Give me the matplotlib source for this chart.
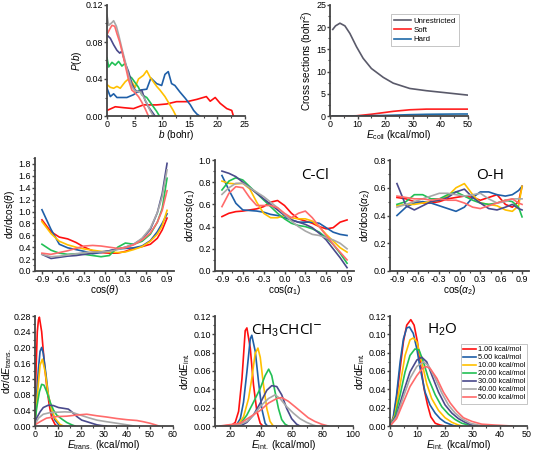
import matplotlib
matplotlib.use("Agg")
import matplotlib.pyplot as plt
from matplotlib.ticker import AutoMinorLocator, FormatStrFormatter

plt.rcParams['font.family'] = ['Liberation Sans', 'DejaVu Sans']
plt.rcParams['mathtext.fontset'] = 'custom'
plt.rcParams['mathtext.rm'] = 'Liberation Sans'
plt.rcParams['mathtext.it'] = 'Liberation Sans:italic'

energies = ["1.00 kcal/mol", "5.00 kcal/mol", "10.00 kcal/mol", "20.00 kcal/mol",
            "30.00 kcal/mol", "40.00 kcal/mol", "50.00 kcal/mol"]
colors = ["#ff1010", "#1f5fa8", "#ffc000", "#22c055", "#4a4a8c", "#a8a8a8", "#ff6b6b"]

# ---------------- Panel a: P(b) ----------------
pb_x = [
    [0, 1.5, 3, 4.8, 6.6, 9, 10.8, 12.6, 14.5, 16.3, 18, 18.7, 19.6, 20.5, 21.7, 22.6, 22.9],
    [0, 0.6, 1.2, 1.8, 3.6, 4.8, 6.0, 7.2, 7.95, 9, 9.9, 10.5, 11.1, 11.7, 12.3, 13.2, 14.2, 15.1, 15.7, 16.3, 16.8],
    [0, 0.6, 1.2, 1.8, 2.4, 3.3, 3.9, 4.5, 5.1, 5.7, 6.6, 7.2, 7.8, 8.4, 9, 9.6, 10.5, 11.4, 12, 12.5],
    [0, 0.3, 0.9, 1.5, 2.1, 2.7, 3.3, 3.9, 4.5, 5.1, 5.7, 6.3, 7.2, 7.8, 8.4, 9, 9.5],
    [0, 0.6, 1.2, 1.8, 2.3, 2.7, 3.3, 3.9, 4.5, 5.1, 5.7, 6.3, 6.9, 7.5, 8.1, 8.7],
    [0, 0.3, 0.9, 1.2, 1.7, 2.1, 2.7, 3.3, 3.9, 4.5, 5.1, 6.0, 6.6, 7.2, 7.8, 8.4],
    [0, 0.5, 0.9, 1.4, 1.8, 2.3, 2.8, 3.3, 3.9, 4.5, 5.1, 5.7, 6.3, 6.9, 7.5],
]
pb_y = [
    [0.006, 0.010, 0.009, 0.008, 0.012, 0.012, 0.013, 0.0155, 0.0155, 0.018, 0.021, 0.016, 0.020, 0.0137, 0.008, 0.006, 0.0],
    [0.030, 0.021, 0.024, 0.020, 0.020, 0.023, 0.028, 0.029, 0.041, 0.035, 0.033, 0.045, 0.048, 0.035, 0.033, 0.026, 0.019, 0.012, 0.006, 0.002, 0.0],
    [0.034, 0.031, 0.030, 0.032, 0.030, 0.037, 0.040, 0.037, 0.031, 0.040, 0.044, 0.049, 0.042, 0.037, 0.032, 0.028, 0.021, 0.012, 0.006, 0.0],
    [0.063, 0.053, 0.058, 0.055, 0.059, 0.054, 0.057, 0.044, 0.041, 0.036, 0.031, 0.023, 0.020, 0.015, 0.010, 0.005, 0.0],
    [0.0875, 0.084, 0.077, 0.071, 0.068, 0.070, 0.057, 0.048, 0.035, 0.028, 0.026, 0.028, 0.017, 0.010, 0.005, 0.0],
    [0.109, 0.098, 0.101, 0.103, 0.097, 0.088, 0.073, 0.059, 0.044, 0.032, 0.027, 0.026, 0.021, 0.014, 0.006, 0.0],
    [0.088, 0.094, 0.098, 0.097, 0.089, 0.080, 0.068, 0.055, 0.039, 0.028, 0.025, 0.021, 0.015, 0.008, 0.0],
]

# ---------------- Panel b: cross sections ----------------
cs_e = [1, 2, 3.6, 5.4, 7.2, 9.6, 12, 15, 19.3, 22.9, 28.9, 34.9, 41, 47, 50]
cs_unres = [19.5, 20.3, 20.9, 20.3, 18.6, 15.6, 13.0, 10.7, 8.7, 7.4, 6.2, 5.7, 5.3, 4.9, 4.7]
cs_soft = [0.0, 0.0, 0.0, 0.0, 0.02, 0.05, 0.2, 0.4, 0.75, 1.05, 1.4, 1.55, 1.55, 1.55, 1.55]
cs_hard = [0.0, 0.0, 0.0, 0.0, 0.0, 0.0, 0.03, 0.08, 0.12, 0.18, 0.3, 0.38, 0.42, 0.45, 0.45]
cs_labels = ["Unrestricted", "Soft", "Hard"]
cs_colors = ["#5a5a6a", "#ff2020", "#1f6aa8"]

# ---------------- Panel c: cos(theta) ----------------
th_x = [-0.9, -0.77, -0.65, -0.53, -0.41, -0.29, -0.17, -0.05, 0.07, 0.19, 0.3, 0.42, 0.54, 0.66, 0.76, 0.83, 0.9]
th_y = [
    [0.86, 0.66, 0.57, 0.54, 0.48, 0.40, 0.34, 0.31, 0.30, 0.30, 0.33, 0.38, 0.41, 0.45, 0.55, 0.69, 0.89],
    [1.03, 0.70, 0.45, 0.39, 0.36, 0.33, 0.29, 0.31, 0.34, 0.37, 0.38, 0.39, 0.42, 0.51, 0.66, 0.80, 0.96],
    [0.83, 0.63, 0.50, 0.44, 0.40, 0.37, 0.35, 0.33, 0.32, 0.31, 0.32, 0.36, 0.41, 0.50, 0.62, 0.76, 1.02],
    [0.45, 0.35, 0.30, 0.28, 0.29, 0.28, 0.26, 0.24, 0.26, 0.40, 0.47, 0.45, 0.50, 0.62, 0.82, 1.05, 1.56],
    [0.28, 0.21, 0.23, 0.25, 0.26, 0.28, 0.30, 0.32, 0.34, 0.37, 0.40, 0.45, 0.54, 0.70, 0.98, 1.30, 1.81],
    [0.28, 0.24, 0.25, 0.27, 0.29, 0.31, 0.32, 0.32, 0.33, 0.36, 0.40, 0.45, 0.55, 0.72, 0.98, 1.25, 1.70],
    [0.30, 0.28, 0.31, 0.34, 0.38, 0.42, 0.43, 0.42, 0.40, 0.38, 0.39, 0.44, 0.52, 0.64, 0.82, 1.02, 1.35],
]

# ---------------- Panel d: cos(alpha1), C-Cl ----------------
a1_x = [-0.9, -0.8, -0.7, -0.6, -0.5, -0.4, -0.3, -0.2, -0.1, 0.0, 0.1, 0.2, 0.3, 0.4, 0.5, 0.6, 0.7, 0.8, 0.9]
a1_y = [
    [0.49, 0.52, 0.535, 0.54, 0.55, 0.56, 0.58, 0.62, 0.635, 0.59, 0.52, 0.47, 0.45, 0.43, 0.40, 0.38, 0.39, 0.44, 0.46],
    [0.86, 0.73, 0.61, 0.55, 0.545, 0.54, 0.53, 0.51, 0.50, 0.48, 0.46, 0.44, 0.44, 0.44, 0.43, 0.39, 0.35, 0.33, 0.32],
    [0.81, 0.79, 0.785, 0.79, 0.74, 0.62, 0.52, 0.48, 0.48, 0.50, 0.48, 0.47, 0.47, 0.45, 0.40, 0.33, 0.27, 0.21, 0.17],
    [0.73, 0.81, 0.84, 0.82, 0.76, 0.70, 0.64, 0.58, 0.52, 0.47, 0.43, 0.41, 0.40, 0.38, 0.35, 0.30, 0.24, 0.16, 0.07],
    [0.90, 0.88, 0.85, 0.80, 0.75, 0.70, 0.65, 0.60, 0.55, 0.50, 0.46, 0.44, 0.42, 0.39, 0.34, 0.28, 0.20, 0.12, 0.03],
    [0.69, 0.75, 0.79, 0.79, 0.75, 0.71, 0.67, 0.62, 0.57, 0.51, 0.45, 0.40, 0.36, 0.33, 0.32, 0.30, 0.28, 0.25, 0.20],
    [0.58, 0.70, 0.76, 0.75, 0.66, 0.59, 0.59, 0.59, 0.57, 0.52, 0.48, 0.52, 0.54, 0.48, 0.40, 0.32, 0.24, 0.17, 0.10],
]

# ---------------- Panel e: cos(alpha2), O-H ----------------
a2_x = [-0.9, -0.77, -0.65, -0.53, -0.41, -0.29, -0.17, -0.05, 0.07, 0.19, 0.3, 0.42, 0.54, 0.66, 0.76, 0.85, 0.9]
a2_y = [
    [0.53, 0.52, 0.50, 0.49, 0.49, 0.50, 0.52, 0.53, 0.54, 0.53, 0.51, 0.53, 0.55, 0.48, 0.46, 0.50, 0.61],
    [0.40, 0.46, 0.49, 0.50, 0.49, 0.47, 0.45, 0.43, 0.46, 0.53, 0.57, 0.57, 0.55, 0.54, 0.55, 0.58, 0.61],
    [0.47, 0.48, 0.48, 0.49, 0.50, 0.51, 0.54, 0.60, 0.63, 0.55, 0.49, 0.48, 0.47, 0.44, 0.43, 0.47, 0.61],
    [0.48, 0.50, 0.55, 0.55, 0.52, 0.52, 0.55, 0.57, 0.54, 0.51, 0.49, 0.48, 0.49, 0.51, 0.50, 0.46, 0.39],
    [0.63, 0.47, 0.44, 0.47, 0.50, 0.51, 0.53, 0.57, 0.59, 0.53, 0.49, 0.45, 0.44, 0.46, 0.48, 0.45, 0.44],
    [0.46, 0.48, 0.50, 0.52, 0.54, 0.56, 0.56, 0.55, 0.54, 0.55, 0.56, 0.52, 0.49, 0.50, 0.52, 0.52, 0.52],
    [0.54, 0.53, 0.52, 0.52, 0.51, 0.52, 0.51, 0.51, 0.49, 0.46, 0.45, 0.47, 0.49, 0.51, 0.52, 0.49, 0.48],
]

# ---------------- Panel f: E_trans ----------------
et_x = [
    [0, 0.5, 1.0, 1.5, 1.9, 2.9, 3.9, 5.1, 6.2, 7.3, 8.7, 9.5],
    [0, 0.7, 1.5, 2.2, 2.9, 3.6, 4.8, 5.8, 7.3, 8.7, 10.2, 10.9],
    [0, 0.7, 1.5, 2.2, 3.2, 4.4, 5.8, 7.3, 8.7, 10.9, 12.4],
    [0, 0.7, 1.9, 2.9, 3.9, 5.1, 6.5, 8.0, 9.4, 11.6, 13.8, 16.0, 17.4],
    [0, 0.7, 2.2, 3.6, 5.8, 8.0, 10.2, 12.4, 14.5, 16.0, 18.2, 20.3, 22.5, 24.7, 26.9, 29.0, 31.0],
    [0, 1.5, 3.6, 6.5, 9.4, 13.0, 16.0, 19.6, 23.3, 26.9, 31.0, 35.6, 40.0, 42.9],
    [0, 2.2, 5.0, 9.4, 13.8, 18.2, 22.5, 26.9, 31.0, 35.6, 40.0, 44.3, 47.0, 50.0, 52.3, 53.8],
]
et_y = [
    [0.05, 0.15, 0.24, 0.27, 0.277, 0.24, 0.17, 0.10, 0.053, 0.02, 0.004, 0.0],
    [0.011, 0.08, 0.146, 0.19, 0.20, 0.185, 0.13, 0.079, 0.036, 0.015, 0.004, 0.0],
    [0.004, 0.053, 0.11, 0.155, 0.17, 0.138, 0.079, 0.04, 0.02, 0.004, 0.0],
    [0.007, 0.045, 0.087, 0.106, 0.104, 0.087, 0.062, 0.041, 0.028, 0.018, 0.009, 0.003, 0.0],
    [0.004, 0.02, 0.036, 0.047, 0.053, 0.052, 0.047, 0.045, 0.043, 0.036, 0.024, 0.015, 0.011, 0.007, 0.003, 0.001, 0.0],
    [0.004, 0.02, 0.03, 0.034, 0.035, 0.036, 0.035, 0.028, 0.021, 0.015, 0.011, 0.007, 0.003, 0.0],
    [0.003, 0.011, 0.02, 0.024, 0.025, 0.028, 0.030, 0.026, 0.023, 0.019, 0.016, 0.014, 0.011, 0.007, 0.003, 0.0],
]

# ---------------- Panel g: E_int CH3CHCl- ----------------
eg_x = [
    [15, 21, 23.2, 25.4, 27.6, 29.7, 30.8, 33.0, 35.1, 37.3, 39.5, 41.2],
    [22, 24.3, 26.5, 28.6, 30.8, 33.0, 34.0, 36.3, 38.4, 40.5, 42.7, 44.2],
    [22, 25.4, 28.6, 31.9, 34.0, 36.2, 38.0, 39.5, 41.6, 43.8, 45.9, 48.0],
    [22, 26.5, 30.8, 35.1, 39.5, 42.7, 45.0, 47.0, 49.2, 51.4, 53.5, 55.7, 57.8],
    [22, 27.6, 30.8, 35.1, 39.5, 43.8, 47.0, 50.3, 53.5, 56.8, 60.0, 63.2, 65.4],
    [20, 26.5, 30.8, 35.1, 40.5, 44.9, 49.2, 52.4, 56.8, 61.1, 65.4, 69.7, 74.0, 76.2],
    [13.2, 26.5, 33.0, 39.5, 44.9, 50.3, 53.5, 57.8, 62.2, 66.5, 70.8, 75.1, 79.5, 83.8],
]
eg_y = [
    [0.0, 0.001, 0.004, 0.016, 0.052, 0.104, 0.107, 0.085, 0.045, 0.016, 0.003, 0.0],
    [0.0, 0.002, 0.008, 0.026, 0.059, 0.095, 0.099, 0.081, 0.048, 0.019, 0.003, 0.0],
    [0.0, 0.002, 0.010, 0.030, 0.052, 0.079, 0.085, 0.075, 0.045, 0.019, 0.005, 0.0],
    [0.0, 0.002, 0.012, 0.026, 0.041, 0.055, 0.062, 0.055, 0.037, 0.019, 0.007, 0.002, 0.0],
    [0.0, 0.001, 0.004, 0.012, 0.025, 0.039, 0.044, 0.043, 0.034, 0.019, 0.008, 0.002, 0.0],
    [0.0, 0.002, 0.005, 0.012, 0.023, 0.030, 0.034, 0.030, 0.021, 0.014, 0.008, 0.004, 0.001, 0.0],
    [0.0, 0.003, 0.010, 0.017, 0.025, 0.030, 0.031, 0.027, 0.021, 0.015, 0.009, 0.005, 0.002, 0.0],
]

# ---------------- Panel h: E_int H2O ----------------
eh_x = [
    [0, 1.2, 2.4, 3.7, 4.9, 6.1, 7.6, 8.8, 10.0, 11.2, 12.4, 13.7, 14.9, 16.5, 18.3, 20.1],
    [0, 1.2, 2.4, 3.7, 4.9, 6.1, 7.1, 8.5, 9.8, 11.0, 12.8, 14.6, 16.5, 18.3, 20.1, 22.6, 23.8],
    [0, 1.8, 3.7, 5.5, 7.3, 8.5, 9.8, 11.6, 13.4, 15.2, 17.7, 20.1, 22.6, 25.0, 26.2],
    [0, 1.8, 3.7, 5.5, 7.3, 9.1, 10.6, 12.2, 14.0, 16.5, 18.9, 21.3, 23.8, 26.2, 28.7, 30.5],
    [0, 2.4, 4.9, 7.3, 9.8, 11.6, 13.4, 15.2, 17.7, 20.1, 22.6, 25.0, 27.4, 29.9, 32.3],
    [0, 2.4, 4.9, 7.3, 9.8, 12.2, 14.0, 16.5, 18.9, 21.3, 23.8, 26.2, 29.3, 32.3, 36.0],
    [0, 2.4, 4.9, 7.3, 9.8, 11.6, 13.0, 14.6, 17.1, 19.5, 22.0, 24.4, 26.8, 29.9, 33.5, 38.4, 44.5],
]
eh_y = [
    [0.0, 0.008, 0.030, 0.063, 0.092, 0.110, 0.116, 0.110, 0.092, 0.066, 0.041, 0.023, 0.010, 0.003, 0.001, 0.0],
    [0.0, 0.010, 0.034, 0.070, 0.095, 0.107, 0.108, 0.101, 0.084, 0.063, 0.037, 0.023, 0.014, 0.008, 0.004, 0.001, 0.0],
    [0.0, 0.012, 0.045, 0.077, 0.094, 0.096, 0.092, 0.070, 0.046, 0.030, 0.017, 0.009, 0.004, 0.001, 0.0],
    [0.0, 0.010, 0.034, 0.059, 0.077, 0.084, 0.083, 0.070, 0.052, 0.034, 0.021, 0.013, 0.007, 0.003, 0.001, 0.0],
    [0.0, 0.012, 0.037, 0.059, 0.072, 0.075, 0.070, 0.056, 0.037, 0.023, 0.014, 0.008, 0.004, 0.001, 0.0],
    [0.0, 0.010, 0.032, 0.052, 0.065, 0.070, 0.066, 0.052, 0.036, 0.023, 0.014, 0.008, 0.003, 0.001, 0.0],
    [0.0, 0.008, 0.026, 0.043, 0.055, 0.062, 0.065, 0.063, 0.052, 0.037, 0.025, 0.016, 0.009, 0.005, 0.002, 0.001, 0.0],
]

W, H = 534, 451
fig = plt.figure(figsize=(W / 100, H / 100), dpi=100)

def ax_px(l, t, r, b):
    return fig.add_axes([l / W, 1 - b / H, (r - l) / W, (b - t) / H])

TICK_FS = 6.4
LAB_FS = 7.2
LW = 1.2

def style(ax, xlim, ylim, xticks, yticks, xfmt=None, yfmt=None):
    ax.set_xlim(*xlim)
    ax.set_ylim(*ylim)
    ax.set_xticks(xticks)
    ax.set_yticks(yticks)
    if xfmt:
        ax.xaxis.set_major_formatter(FormatStrFormatter(xfmt))
    if yfmt:
        ax.yaxis.set_major_formatter(FormatStrFormatter(yfmt))
    ax.xaxis.set_minor_locator(AutoMinorLocator(2))
    ax.yaxis.set_minor_locator(AutoMinorLocator(2))
    for s in ['top', 'right']:
        ax.spines[s].set_visible(False)
    for s in ['left', 'bottom']:
        ax.spines[s].set_linewidth(1.3)
        ax.spines[s].set_color('#444444')
    ax.tick_params(which='major', direction='out', length=2.2, width=1.0, color='#444444',
                   labelsize=TICK_FS, pad=0.6)
    ax.tick_params(which='minor', direction='out', length=1.4, width=0.8, color='#444444')

def labels(ax, xl, yl, xpad=-0.5, ylx=None):
    ax.set_ylabel(yl, fontsize=LAB_FS, labelpad=1)
    ax.set_xlabel(xl, fontsize=LAB_FS, labelpad=xpad)
    if ylx is not None:
        ax.yaxis.set_label_coords(ylx, 0.5)

# Panel a
ax = ax_px(107, 5, 245, 116)
for i in range(7):
    ax.plot(pb_x[i], pb_y[i], color=colors[i], lw=LW)
style(ax, (0, 25), (0, 0.12), [0, 5, 10, 15, 20, 25], [0, 0.04, 0.08, 0.12], yfmt='%.2f')
labels(ax, r'$b$ (bohr)', r'$P$($b$)')

# Panel b
ax = ax_px(330, 5, 468, 116)
for ys, lab, c in zip([cs_unres, cs_soft, cs_hard], cs_labels, cs_colors):
    ax.plot(cs_e, ys, color=c, lw=LW, label=lab)
style(ax, (0, 50), (0, 25), [0, 10, 20, 30, 40, 50], [0, 5, 10, 15, 20, 25])
labels(ax, r'$E_{\rm coll}$ (kcal/mol)', r'Cross sections (bohr$^2$)')
leg = ax.legend(loc='upper right', bbox_to_anchor=(0.96, 0.95), fontsize=5.6, frameon=True,
                fancybox=False, edgecolor='#aaaaaa', handlelength=2.2, borderpad=0.35,
                labelspacing=0.25, handletextpad=0.3)
leg.get_frame().set_linewidth(0.6)

# Panel c
ax = ax_px(35, 158, 174, 271)
for i in range(7):
    ax.plot(th_x, th_y[i], color=colors[i], lw=LW)
ticks_c = [-0.9, -0.6, -0.3, 0.0, 0.3, 0.6, 0.9]
style(ax, (-1.0, 1.0), (0, 1.9), ticks_c, [0, 0.2, 0.4, 0.6, 0.8, 1.0, 1.2, 1.4, 1.6, 1.8],
      xfmt='%.1f', yfmt='%.1f')
labels(ax, r'cos($\theta$)', r'd$\sigma$/dcos($\theta$)')

# Panel d
ax = ax_px(215, 160, 354, 271)
for i in range(7):
    ax.plot(a1_x, a1_y[i], color=colors[i], lw=LW)
style(ax, (-1.0, 1.0), (0, 1.0), ticks_c, [0, 0.2, 0.4, 0.6, 0.8, 1.0], xfmt='%.1f', yfmt='%.1f')
labels(ax, r'cos($\alpha_1$)', r'd$\sigma$/dcos($\alpha_1$)')
ax.text(0.72, 0.86, 'C-Cl', transform=ax.transAxes, fontsize=11, ha='center', va='center',
        family=['Open Sans', 'DejaVu Sans'])

# Panel e
ax = ax_px(390, 160, 529, 271)
for i in range(7):
    ax.plot(a2_x, a2_y[i], color=colors[i], lw=LW)
style(ax, (-1.0, 1.0), (0, 0.8), ticks_c, [0, 0.2, 0.4, 0.6, 0.8], xfmt='%.1f', yfmt='%.1f')
labels(ax, r'cos($\alpha_2$)', r'd$\sigma$/dcos($\alpha_2$)')
ax.text(0.72, 0.86, 'O-H', transform=ax.transAxes, fontsize=11, ha='center', va='center',
        family=['Open Sans', 'DejaVu Sans'])

# Panel f
ax = ax_px(35, 316, 173, 426)
for i in range(7):
    ax.plot(et_x[i], et_y[i], color=colors[i], lw=LW)
style(ax, (0, 60), (0, 0.28), [0, 10, 20, 30, 40, 50, 60],
      [0, 0.04, 0.08, 0.12, 0.16, 0.20, 0.24, 0.28], yfmt='%.2f')
labels(ax, r'$E_{\rm trans.}$ (kcal/mol)', r'd$\sigma$/d$E_{\rm trans.}$', xpad=-0.8, ylx=-0.15)

# Panel g
ax = ax_px(215, 316, 353, 426)
for i in range(7):
    ax.plot(eg_x[i], eg_y[i], color=colors[i], lw=LW)
style(ax, (10, 100), (0, 0.12), [20, 40, 60, 80, 100],
      [0, 0.02, 0.04, 0.06, 0.08, 0.10, 0.12], yfmt='%.2f')
labels(ax, r'$E_{\rm int.}$ (kcal/mol)', r'd$\sigma$/d$E_{\rm int.}$', xpad=-0.8)
ax.text(0.52, 0.87, r'CH$_3$CHCl$^{\mathsf{-}}$', transform=ax.transAxes, fontsize=11,
        ha='center', va='center', family=['Open Sans', 'DejaVu Sans'])

# Panel h
ax = ax_px(390, 316, 527, 426)
for i in range(7):
    ax.plot(eh_x[i], eh_y[i], color=colors[i], lw=LW, label=energies[i])
style(ax, (0, 50), (0, 0.12), [0, 10, 20, 30, 40, 50],
      [0, 0.02, 0.04, 0.06, 0.08, 0.10, 0.12], yfmt='%.2f')
labels(ax, r'$E_{\rm int.}$ (kcal/mol)', r'd$\sigma$/d$E_{\rm int.}$', xpad=-0.8)
ax.text(0.38, 0.87, r'H$_2$O', transform=ax.transAxes, fontsize=11,
        ha='center', va='center', family=['Open Sans', 'DejaVu Sans'])
leg = ax.legend(loc='upper right', bbox_to_anchor=(1.03, 0.78), fontsize=5.3, frameon=True,
                fancybox=False, edgecolor='#aaaaaa', handlelength=1.8, borderpad=0.3,
                labelspacing=0.12, handletextpad=0.2)
leg.get_frame().set_linewidth(0.6)

fig.savefig('out.png', dpi=100)
